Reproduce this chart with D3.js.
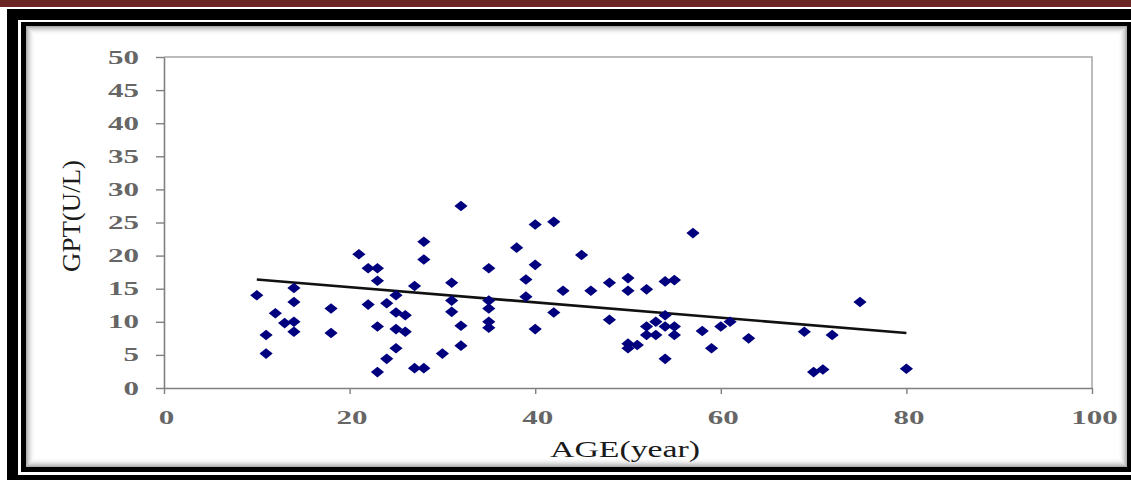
<!DOCTYPE html>
<html lang="en">
<head>
    <meta charset="utf-8">
    <title>GPT vs AGE</title>
    <style type="text/css">
        body { margin: 0; background: #fff; }
        svg { display: block; }
        .tick-label { font-family: "Liberation Serif", "Times New Roman", serif; font-weight: bold; fill: #666; }
        .title { font-family: "Liberation Serif", "Times New Roman", serif; fill: #1a1a1a; }
    </style>
</head>
<body>
<svg class="chart" width="1131" height="480"></svg>

<script src="https://d3js.org/d3.v7.min.js"></script>
<script>
    // data
    var ages = [10, 11, 11, 12, 13, 14, 14, 14, 14, 18, 18,
                21, 22, 23, 23, 22, 24, 23, 24, 23, 25, 25, 25, 25, 26, 26, 27, 28, 28, 27, 28,
                31, 31, 31, 32, 32, 32, 30, 35, 35, 35, 35, 35, 38, 39, 39,
                40, 42, 40, 40, 43, 42, 45, 46, 48, 48, 50, 50, 52, 50, 50, 51, 52, 52, 53, 53,
                54, 55, 54, 54, 55, 55, 54, 57, 58, 59, 60, 61, 63, 69, 72, 75, 70, 71, 80];
    var gpt  = [14.0, 8.0, 5.2, 11.3, 9.8, 15.1, 13.0, 10.0, 8.5, 12.0, 8.3,
                20.2, 18.1, 18.1, 16.2, 12.6, 12.8, 9.3, 4.4, 2.4, 14.0, 11.4, 8.9, 6.0, 11.0, 8.5, 15.4, 22.1, 19.4, 3.0, 3.0,
                15.9, 13.2, 11.5, 27.5, 9.4, 6.4, 5.2, 18.1, 13.2, 12.0, 10.0, 9.1, 21.2, 16.4, 13.8,
                24.7, 25.1, 18.6, 8.9, 14.7, 11.4, 20.1, 14.7, 15.9, 10.3, 16.6, 14.7, 14.9, 6.7, 6.0, 6.5, 9.3, 8.0, 10.0, 8.0,
                16.1, 16.3, 11.0, 9.3, 9.3, 8.0, 4.4, 23.4, 8.6, 6.0, 9.3, 10.0, 7.5, 8.5, 8.0, 13.0, 2.4, 2.8, 2.9];
    var trendAge = [10, 80];
    var trendGpt = [16.4, 8.3];
    var xTicks = [0, 20, 40, 60, 80, 100];
    var yTicks = [0, 5, 10, 15, 20, 25, 30, 35, 40, 45, 50];

    var svg = d3.select('.chart'),
        W = +svg.attr('width'),
        H = +svg.attr('height');

    // --- page frame ---
    svg.append('rect').attr('x', 0).attr('y', 0).attr('width', W).attr('height', 7).attr('fill', '#6a2424');
    svg.append('rect').attr('x', 7).attr('y', 9).attr('width', W).attr('height', H).attr('fill', '#000');
    svg.append('rect').attr('x', 18).attr('y', 20).attr('width', W).attr('height', 455).attr('fill', '#fff');
    svg.append('rect').attr('x', 21).attr('y', 22).attr('width', W).attr('height', 450).attr('fill', '#000');
    svg.append('rect').attr('x', 26).attr('y', 26).attr('width', 1101).attr('height', 441).attr('fill', '#fff');

    // soft inner shadow
    for (var i = 0; i < 9; i++) {
        svg.append('rect')
            .attr('x', 26.5 + i).attr('y', 26.5 + i)
            .attr('width', 1100 - 2 * i).attr('height', 440 - 2 * i)
            .attr('fill', 'none')
            .attr('stroke', '#000')
            .attr('stroke-opacity', 0.32 * Math.pow(1 - i / 9, 2));
    }

    // --- scales ---
    var x = d3.scaleLinear().domain([0, 100]).range([164, 1092]);
    var y = d3.scaleLinear().domain([0, 50]).range([388, 57]);

    // plot area border (top / right)
    svg.append('path')
        .attr('d', 'M' + x(0) + ',' + y(50) + 'H' + x(100) + 'V' + y(0))
        .attr('fill', 'none').attr('stroke', '#a6a6a6').attr('stroke-width', 1.5);

    // axes
    var gx = svg.append('g')
        .attr('transform', 'translate(0,' + y(0) + ')')
        .call(d3.axisBottom(x).tickValues(xTicks).tickSize(6).tickPadding(17).tickSizeOuter(0));
    var gy = svg.append('g')
        .attr('transform', 'translate(' + x(0) + ',0)')
        .call(d3.axisLeft(y).tickValues(yTicks).tickSize(8).tickPadding(17).tickSizeOuter(0));

    [gx, gy].forEach(function(g) {
        g.select('.domain').attr('stroke', '#808080').attr('stroke-width', 1.6);
        g.selectAll('.tick line').attr('stroke', '#808080').attr('stroke-width', 1.4);
        g.selectAll('.tick text')
            .attr('class', 'tick-label')
            .attr('font-size', 19)
            .attr('textLength', function(d) { return String(d).length * 15.5; })
            .attr('lengthAdjust', 'spacingAndGlyphs');
    });
    gx.selectAll('.tick text').attr('x', 2);

    // trend line
    var line = d3.line()
        .x(function(d) { return x(d[0]); })
        .y(function(d) { return y(d[1]); });
    svg.append('path')
        .datum(d3.zip(trendAge, trendGpt))
        .attr('d', line)
        .attr('fill', 'none')
        .attr('stroke', '#111')
        .attr('stroke-width', 2.6);

    // diamonds
    var diamond = 'M0,-5.3L6.6,0L0,5.3L-6.6,0Z';
    svg.append('g')
        .selectAll('path')
        .data(d3.zip(ages, gpt))
        .enter()
        .append('path')
        .attr('d', diamond)
        .attr('transform', function(d) { return 'translate(' + x(d[0]) + ',' + y(d[1]) + ')'; })
        .attr('fill', '#00007f');

    // titles
    svg.append('text')
        .attr('class', 'title')
        .attr('x', 625).attr('y', 457)
        .attr('text-anchor', 'middle')
        .attr('font-size', 24)
        .attr('textLength', 150)
        .attr('lengthAdjust', 'spacingAndGlyphs')
        .text('AGE(year)');

    svg.append('text')
        .attr('class', 'title')
        .attr('transform', 'translate(80,216) rotate(-90)')
        .attr('text-anchor', 'middle')
        .attr('font-size', 25)
        .attr('textLength', 112)
        .attr('lengthAdjust', 'spacingAndGlyphs')
        .text('GPT(U/L)');
</script>
</body>
</html>
